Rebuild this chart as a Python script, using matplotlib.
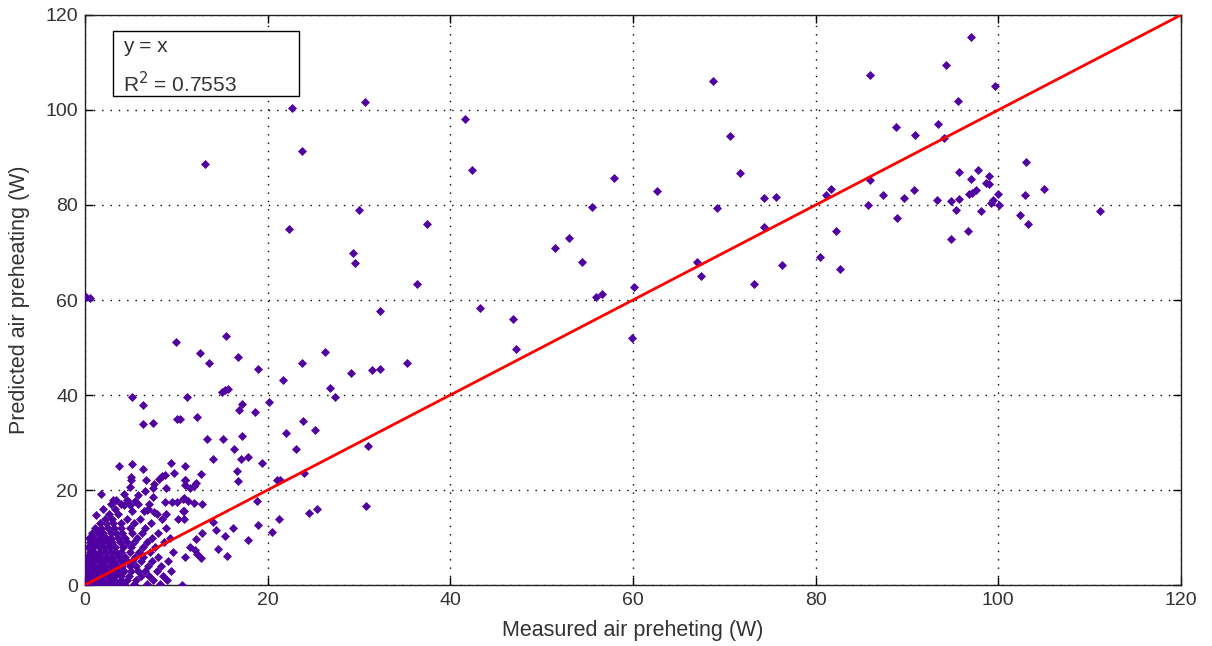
import matplotlib
matplotlib.use("Agg")
import matplotlib.pyplot as plt
from matplotlib.patches import Rectangle

plt.rcParams['font.family'] = ['Liberation Sans', 'DejaVu Sans']

# scattered points away from the origin (measured, predicted)
high_pts = [(68.8, 106.0), (85.9, 107.4), (97.0, 115.4), (94.3, 109.5), (99.6, 105.1),
            (95.6, 101.8), (70.6, 94.5), (71.7, 86.7), (88.8, 96.5), (90.9, 94.7),
            (93.4, 97.1), (94.0, 94.2), (74.3, 81.4), (75.7, 81.7), (69.2, 79.3),
            (74.3, 75.4), (67.0, 68.1), (67.5, 65.1), (76.3, 67.4), (73.2, 63.3),
            (81.1, 82.0), (81.7, 83.4), (82.2, 74.6), (80.5, 69.0), (82.7, 66.6),
            (85.9, 85.2), (85.7, 79.9), (87.4, 82.0), (88.9, 77.2), (89.7, 81.4),
            (90.8, 83.2), (93.3, 81.1), (94.8, 80.8), (94.8, 72.8), (95.4, 78.9),
            (95.7, 87.0), (95.7, 81.3), (96.7, 74.6), (96.8, 82.3), (97.0, 85.5),
            (97.1, 82.6), (97.6, 83.1), (97.8, 87.3), (98.1, 78.7), (98.7, 84.7),
            (99.0, 84.4), (99.0, 86.2), (99.2, 80.4), (99.4, 81.0), (100.0, 82.3),
            (100.1, 79.9), (102.4, 77.9), (102.9, 82.0), (103.3, 76.1), (103.0, 89.1),
            (105.0, 83.4), (111.1, 78.7)]

mid_pts = [(0.1, 60.6), (0.6, 60.4), (13.1, 88.6), (22.7, 100.4), (30.7, 101.7),
           (23.8, 91.4), (22.3, 74.9), (30.0, 79.0), (37.4, 76.1), (41.6, 98.1),
           (42.4, 87.4), (57.9, 85.6), (62.6, 82.9), (55.5, 79.6), (29.4, 69.8),
           (29.6, 67.8), (51.5, 71.0), (53.0, 73.1), (54.4, 68.1), (36.4, 63.4),
           (55.9, 60.6), (56.6, 61.3), (60.1, 62.7), (32.3, 57.7), (43.3, 58.3),
           (46.9, 55.9), (47.2, 49.7), (59.9, 52.1), (23.8, 46.7), (26.3, 49.1),
           (29.1, 44.6), (31.4, 45.3), (32.3, 45.5), (35.3, 46.7),
           (15.4, 52.4), (12.6, 48.8), (13.6, 46.7), (16.8, 47.9), (18.9, 45.5),
           (21.7, 43.2), (26.8, 41.4), (27.4, 39.6), (11.2, 39.6), (15.0, 40.7),
           (15.3, 41.0), (15.7, 41.2), (17.2, 38.2), (16.9, 36.9), (18.6, 36.4),
           (20.1, 38.5), (12.3, 35.4), (13.4, 30.7), (15.1, 30.7), (17.2, 31.3),
           (16.3, 28.7), (14.0, 26.6), (17.1, 26.6), (17.9, 26.9), (19.4, 25.7),
           (23.9, 34.6), (25.2, 32.6), (22.0, 31.9), (23.1, 28.7), (31.0, 29.3),
           (24.0, 23.6), (21.0, 22.1), (21.4, 22.1), (10.9, 25.1), (12.7, 23.4),
           (10.9, 22.1), (12.2, 21.5), (11.9, 20.9), (11.5, 20.5), (10.9, 21.0),
           (16.6, 23.9), (16.8, 21.8), (10.8, 18.3), (11.3, 17.7), (11.9, 17.3),
           (12.8, 17.1), (18.8, 17.7), (30.8, 16.6), (24.5, 15.1), (25.4, 16.1),
           (21.2, 13.8), (18.9, 12.7), (16.2, 12.1), (14.0, 13.2), (10.8, 15.6),
           (10.8, 14.0), (10.4, 34.9), (10.0, 51.1), (5.2, 39.6), (6.3, 37.8),
           (6.4, 34.0), (7.5, 34.2), (10.1, 34.9), (14.3, 11.5), (12.8, 10.9),
           (12.2, 9.6), (15.3, 10.3), (20.5, 11.2), (17.8, 9.4), (14.6, 7.6),
           (15.5, 6.2), (11.5, 7.9), (12.0, 7.4), (12.3, 6.5), (12.7, 5.6),
           (10.9, 6.0), (10.6, 0.1)]

low_pts = [(3.7, 25.1), (5.2, 25.4), (6.3, 24.5), (9.4, 25.7), (9.7, 23.6),
           (5.0, 22.7), (5.0, 22.1), (6.7, 22.2), (8.1, 22.3), (8.4, 23.0),
           (8.8, 23.2), (7.6, 21.2), (7.4, 20.4), (10.9, 22.2), (1.8, 19.2),
           (3.4, 18.0), (4.3, 19.2), (4.9, 20.7), (5.8, 18.9), (6.6, 19.7),
           (7.5, 18.5), (8.9, 20.4), (4.3, 16.9), (4.9, 16.9), (5.5, 17.7),
           (8.8, 17.4), (9.5, 17.4), (10.1, 17.4), (10.7, 18.1), (5.2, 15.6),
           (6.5, 15.6), (6.8, 15.8), (7.6, 15.4), (8.9, 15.0), (10.7, 15.6),
           (1.2, 14.8),
           # dense cluster near the origin
           (0.1, 0.3), (0.5, 0.3), (1.0, 0.3), (1.6, 0.3), (2.2, 0.3), (2.9, 0.3),
           (3.5, 0.3), (4.3, 0.3), (5.4, 0.3), (6.8, 0.3), (8.2, 0.3),
           (0.2, 1.0), (0.7, 1.0), (1.2, 1.0), (1.8, 1.0), (2.5, 1.0), (3.2, 1.0),
           (3.9, 1.0), (4.6, 1.0), (5.6, 1.0), (7.4, 1.0), (9.0, 1.0),
           (0.1, 2.0), (0.5, 2.0), (0.9, 2.0), (1.4, 2.0), (2.0, 2.0), (2.7, 2.0),
           (3.3, 2.0), (4.0, 2.0), (4.8, 2.0), (6.1, 2.0), (7.0, 2.0), (8.5, 2.0),
           (0.3, 3.0), (0.8, 3.0), (1.3, 3.0), (1.9, 3.0), (2.4, 3.0), (3.0, 3.0),
           (3.6, 3.0), (4.3, 3.0), (5.0, 3.0), (5.8, 3.0), (6.6, 3.0), (7.9, 3.0),
           (9.4, 3.0),
           (0.1, 4.0), (0.6, 4.0), (1.1, 4.0), (1.7, 4.0), (2.2, 4.0), (2.8, 4.0),
           (3.5, 4.0), (4.1, 4.0), (4.9, 4.0), (5.6, 4.0), (6.9, 4.0), (8.3, 4.0),
           (0.4, 5.0), (0.9, 5.0), (1.5, 5.0), (2.0, 5.0), (2.6, 5.0), (3.2, 5.0),
           (3.9, 5.0), (4.6, 5.0), (5.2, 5.0), (6.1, 5.0), (7.3, 5.0), (9.1, 5.0),
           (0.2, 6.0), (0.7, 6.0), (1.3, 6.0), (1.8, 6.0), (2.4, 6.0), (3.0, 6.0),
           (3.7, 6.0), (4.4, 6.0), (5.5, 6.0), (6.3, 6.0), (8.0, 6.0),
           (0.5, 7.0), (1.0, 7.0), (1.6, 7.0), (2.2, 7.0), (2.8, 7.0), (3.4, 7.0),
           (4.0, 7.0), (4.9, 7.0), (5.9, 7.0), (7.1, 7.0), (9.6, 7.0),
           (0.3, 8.0), (0.9, 8.0), (1.5, 8.0), (2.1, 8.0), (2.6, 8.0), (3.3, 8.0),
           (4.2, 8.0), (5.0, 8.0), (6.4, 8.0), (7.7, 8.0),
           (0.6, 9.0), (1.2, 9.0), (1.9, 9.0), (2.5, 9.0), (3.0, 9.0), (3.8, 9.0),
           (4.6, 9.0), (5.4, 9.0), (6.8, 9.0), (8.6, 9.0),
           (0.4, 10.0), (1.0, 10.0), (1.7, 10.0), (2.3, 10.0), (2.9, 10.0),
           (3.6, 10.0), (4.4, 10.0), (5.7, 10.0), (7.3, 10.0), (9.3, 10.0),
           (0.8, 11.0), (1.4, 11.0), (2.0, 11.0), (2.8, 11.0), (3.4, 11.0),
           (4.1, 11.0), (5.1, 11.0), (6.2, 11.0), (8.0, 11.0),
           (1.1, 12.0), (1.8, 12.0), (2.5, 12.0), (3.2, 12.0), (4.0, 12.0),
           (4.9, 12.0), (6.6, 12.0), (8.9, 12.0),
           (1.6, 13.0), (2.3, 13.0), (3.1, 13.0), (3.9, 13.0), (5.4, 13.0),
           (7.2, 13.0), (2.2, 14.0), (3.0, 14.0), (4.6, 14.0), (6.0, 14.0),
           (8.4, 14.0), (10.2, 14.0), (2.6, 15.0), (3.6, 15.0), (7.9, 15.0),
           (2.0, 16.0), (3.3, 16.0), (6.9, 16.0), (2.8, 17.0), (3.9, 17.0),
           (5.8, 17.0), (7.0, 17.0), (3.1, 18.0), (4.6, 18.0)]

pts = high_pts + mid_pts + low_pts
measured = [p[0] for p in pts]
predicted = [p[1] for p in pts]

fig = plt.figure(figsize=(12.12, 6.46), dpi=100)
ax = fig.add_axes([0.0701, 0.0944, 0.9043, 0.8824])

ax.plot(measured, predicted, linestyle='none', marker='D', markersize=4.3,
        color='#5000a0', markeredgewidth=0.5, zorder=3)
ax.plot([0, 120], [0, 120], color='red', linewidth=2, zorder=4)

ax.set_xlim(0, 120)
ax.set_ylim(0, 120)
ax.set_xticks(range(0, 121, 20))
ax.set_yticks(range(0, 121, 20))
ax.grid(True, linestyle=(0, (1, 5)), color='black', linewidth=1)
ax.set_axisbelow(True)
ax.tick_params(direction='in', length=6, top=True, right=True,
               labelsize=14, width=1, pad=5, labelcolor='#333333')
for s in ax.spines.values():
    s.set_linewidth(1)
    s.set_color('#222222')

ax.set_xlabel('Measured air preheting (W)', fontsize=15.5, labelpad=8,
              color='#333333')
ax.set_ylabel('Predicted air preheating (W)', fontsize=15.5, labelpad=11,
              color='#333333')

ax.add_patch(Rectangle((0.0255, 0.858), 0.1695, 0.114, transform=ax.transAxes,
                       facecolor='white', edgecolor='black', linewidth=1, zorder=5))
ax.text(0.0347, 0.944, 'y = x', transform=ax.transAxes, fontsize=15,
        va='center', ha='left', zorder=6, color='#333333')
ax.text(0.0347, 0.880, 'R$^2$ = 0.7553', transform=ax.transAxes, fontsize=15,
        va='center', ha='left', zorder=6, color='#333333')

fig.savefig('out.png', dpi=100)
